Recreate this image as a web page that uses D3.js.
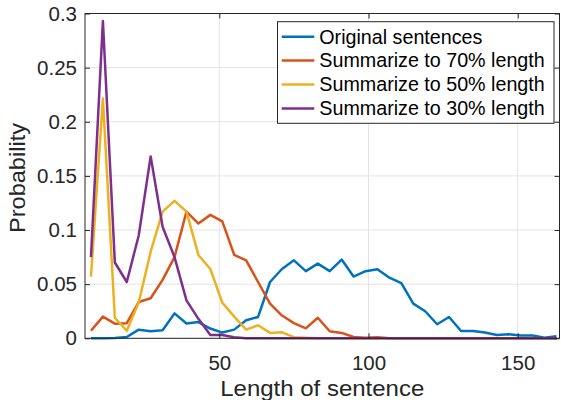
<!DOCTYPE html>
<html><head><meta charset="utf-8">
<script src="https://cdn.jsdelivr.net/npm/d3@7"></script>
<style>body{margin:0;background:#fff}svg{display:block}text{font-family:"Liberation Sans",Arial,Helvetica,sans-serif;fill:#262626}</style>
</head><body><svg id="c" width="561" height="400"></svg>
<script>
const lengths = [7,11,15,19,23,27,31,35,39,43,47,51,55,59,63,67,71,75,79,83,87,91,95,99,103,107,111,115,119,123,127,131,135,139,143,147,151,155,159,163];
const original = [0,0,0.0003,0.0012,0.008,0.0065,0.0074,0.023,0.0136,0.015,0.009,0.0053,0.008,0.0166,0.0197,0.052,0.064,0.072,0.062,0.069,0.062,0.0727,0.057,0.062,0.0638,0.056,0.051,0.032,0.025,0.013,0.0197,0.0068,0.0068,0.0053,0.003,0.0037,0.0025,0.0025,0.0006,0.0018];
const sum70 = [0.007,0.020,0.0135,0.014,0.0335,0.037,0.054,0.075,0.117,0.106,0.114,0.108,0.077,0.072,0.052,0.032,0.021,0.014,0.0092,0.019,0.0065,0.005,0.0012,0.0005,0.001,0,0,0,0,0,0,0,0,0,0,0,0,0,0,0];
const sum50 = [0.057,0.2215,0.019,0.007,0.033,0.080,0.117,0.127,0.117,0.077,0.064,0.033,0.020,0.008,0.012,0.005,0.0055,0.001,0.0005,0,0,0,0,0,0,0,0,0,0,0,0,0,0,0,0,0,0,0,0,0];
const sum30 = [0.075,0.293,0.070,0.052,0.095,0.168,0.103,0.075,0.035,0.018,0.003,0.003,0.001,0,0,0,0,0,0,0,0,0,0,0,0,0,0,0,0,0,0,0,0,0,0,0,0,0,0,0];
const seriesNames = ["Original sentences","Summarize to 70% length","Summarize to 50% length","Summarize to 30% length"];
const seriesColors = ["#0072BD","#D95319","#EDB120","#7E2F8E"];
const xTicks = [50,100,150];
const yTicks = [0,0.05,0.1,0.15,0.2,0.25,0.3];
const yTickLabels = ["0","0.05","0.1","0.15","0.2","0.25","0.3"];
const xLabel = "Length of sentence", yLabel = "Probability";

const svg = d3.select("#c");
const L=85,R=559.5,T=13.5,B=338.3;
const x = d3.scaleLinear().domain([5,164]).range([L,R]);
const y = d3.scaleLinear().domain([0,0.3]).range([B,T]);
const axc="#262626";

// grid
const g = svg.append("g");
g.selectAll(".gx").data(xTicks).join("line").attr("x1",d=>x(d)).attr("x2",d=>x(d)).attr("y1",T).attr("y2",B).attr("stroke","#e3e3e3").attr("stroke-width",1);
g.selectAll(".gy").data(yTicks).join("line").attr("y1",d=>y(d)).attr("y2",d=>y(d)).attr("x1",L).attr("x2",R).attr("stroke","#e3e3e3").attr("stroke-width",1);

// lines
const all=[original,sum70,sum50,sum30];
const line = d3.line().x((d,i)=>x(lengths[i])).y(d=>y(d));
all.forEach((s,i)=>{
  svg.append("path").datum(s).attr("d",line).attr("fill","none").attr("stroke",seriesColors[i]).attr("stroke-width",2.5).attr("stroke-linejoin","round");
});

// axes (box with inward ticks)
const tl=5;
const xb = d3.axisBottom(x).tickValues(xTicks).tickSize(-tl).tickFormat(d3.format("d")).tickPadding(17);
const xt = d3.axisTop(x).tickValues(xTicks).tickSize(-tl).tickFormat("");
const yl = d3.axisLeft(y).tickValues(yTicks).tickSize(-tl).tickFormat((d,i)=>yTickLabels[i]).tickPadding(8);
const yr = d3.axisRight(y).tickValues(yTicks).tickSize(-tl).tickFormat("");
function style(sel){sel.select(".domain").remove();sel.selectAll("line").attr("stroke",axc);sel.selectAll("text").attr("fill",axc).style("font-size","20.5px").style("font-family","Liberation Sans, Arial, sans-serif");}
svg.append("g").attr("transform",`translate(0,${B})`).call(xb).call(style);
svg.append("g").attr("transform",`translate(0,${T})`).call(xt).call(style);
svg.append("g").attr("transform",`translate(${L},0)`).call(yl).call(style);
svg.append("g").attr("transform",`translate(${R},0)`).call(yr).call(style);
svg.append("rect").attr("x",L).attr("y",T).attr("width",R-L).attr("height",B-T).attr("fill","none").attr("stroke",axc).attr("stroke-width",1);

// labels
svg.append("text").attr("x",(L+R)/2).attr("y",396).attr("text-anchor","middle").style("font-size","21.5px").attr("textLength",204).attr("lengthAdjust","spacingAndGlyphs").text(xLabel);
svg.append("text").attr("transform",`translate(25,178) rotate(-90)`).attr("text-anchor","middle").style("font-size","21.5px").attr("textLength",110).attr("lengthAdjust","spacingAndGlyphs").text(yLabel);

// legend
const lg = svg.append("g");
lg.append("rect").attr("x",277.5).attr("y",21.7).attr("width",276.5).attr("height",101.6).attr("fill","#fff").attr("stroke",axc).attr("stroke-width",1);
seriesNames.forEach((n,i)=>{
  const cy=36.7+i*23.9;
  lg.append("line").attr("x1",281.7).attr("x2",314.3).attr("y1",cy).attr("y2",cy).attr("stroke",seriesColors[i]).attr("stroke-width",2.5);
  lg.append("text").attr("x",319.3).attr("y",cy).attr("dy","0.35em").style("font-size","19.7px").style("fill","#000").text(n);
});
</script></body></html>
